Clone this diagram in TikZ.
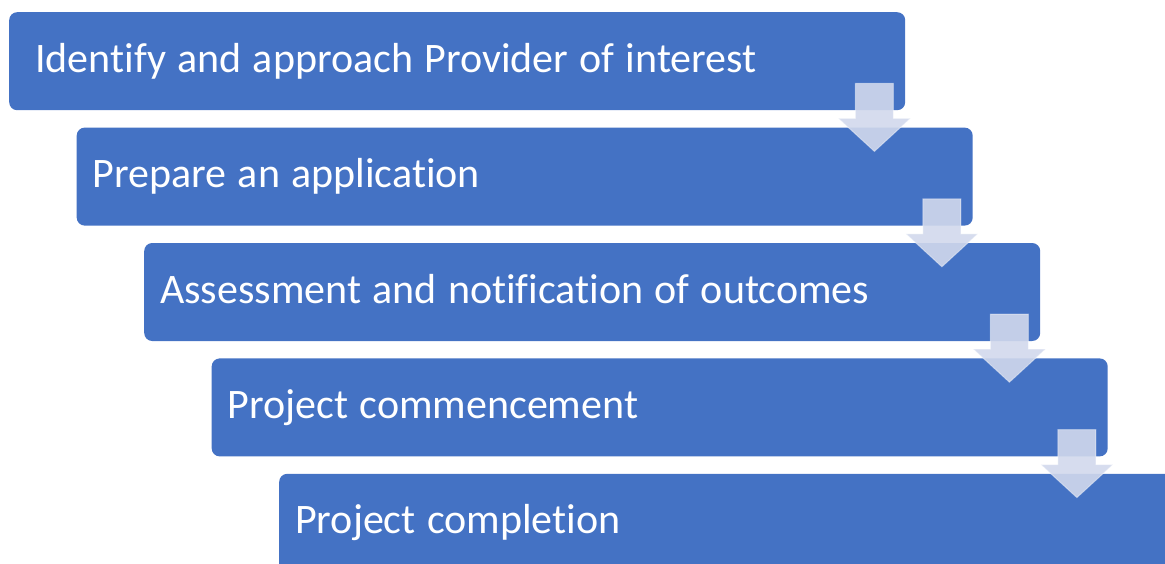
\documentclass[tikz,border=0pt]{standalone}
\usepackage{fontspec}
\setmainfont{Carlito}[Ligatures=CommonOff]
\usetikzlibrary{positioning}
\definecolor{stepblue}{RGB}{68,114,196}
\definecolor{arrowfill}{RGB}{209,216,236}

\begin{document}
\begin{tikzpicture}[x=1pt, y=-1pt,
  stepbox/.style={rectangle, fill=stepblue, rounded corners=8pt, minimum width=896pt, minimum height=98pt,
    text width=864pt, inner xsep=16pt, inner ysep=0pt, text=white,
    text height=30pt, text depth=8pt, font=\fontsize{42}{50}\selectfont,
    execute at begin node={\spaceskip=11.3pt\relax}, anchor=north west},
  downarrow/.pic={\path[fill=arrowfill, fill opacity=0.9, draw=white, draw opacity=0.4, line width=1pt]
    (-19,0) -- (19,0) -- (19,35) -- (36,35) -- (0,68) -- (-36,35) -- (-19,35) -- cycle;},
  node distance=17pt]
  \useasboundingbox (0,0) rectangle (1165,563);
  \clip (0,0) rectangle (1165,563);
  \node[stepbox, text width=844pt, inner xsep=26pt] (identify) at (9,12) {Identify and approach Provider of interest};
  \node[stepbox, below=of identify.south west, anchor=north west, xshift=67.5pt] (prepare) {Prepare an application};
  \node[stepbox, below=of prepare.south west, anchor=north west, xshift=67.5pt] (assess) {Assessment and notification of outcomes};
  \node[stepbox, below=of assess.south west, anchor=north west, xshift=67.5pt] (commence) {Project commencement};
  \node[stepbox, below=of commence.south west, anchor=north west, xshift=67.5pt] (complete) {Project completion};

  \pic at ([xshift=-31pt, yshift=27pt]identify.south east) {downarrow};
  \pic at ([xshift=-31pt, yshift=27pt]prepare.south east) {downarrow};
  \pic at ([xshift=-31pt, yshift=27pt]assess.south east) {downarrow};
  \pic at ([xshift=-31pt, yshift=27pt]commence.south east) {downarrow};
\end{tikzpicture}
\end{document}
